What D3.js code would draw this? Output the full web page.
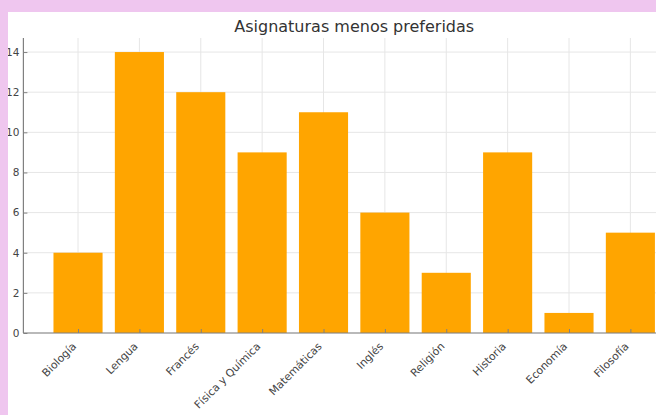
<!DOCTYPE html>
<html><head><meta charset="utf-8">
<script src="https://cdn.jsdelivr.net/npm/d3@7"></script>
<style>body{margin:0;background:#fff}svg{display:block}text{font-family:"DejaVu Sans",sans-serif}</style>
</head><body>
<svg id="c" width="656" height="415"></svg>
<script>
const categories = ["Biología","Lengua","Francés","Física y Química","Matemáticas","Inglés","Religión","Historia","Economía","Filosofía"];
const values = [4,14,12,9,11,6,3,9,1,5];
const yTicks = [0,2,4,6,8,10,12,14];
const title = "Asignaturas menos preferidas";
const xLabel = "Asignaturas";

const svg = d3.select("#c");
const L = 23.4, R = 685, T = 38, B = 333;
const x = d3.scaleLinear().domain([-0.89, categories.length - 1 + 0.89]).range([L, R]);
const y = d3.scaleLinear().domain([0, 14.7]).range([B, T]);
const bw = x(0.8) - x(0);

const g = svg.append("g");
// grid
g.selectAll("line.gx").data(categories).join("line")
  .attr("x1", (d,i)=>x(i)).attr("x2",(d,i)=>x(i)).attr("y1",T).attr("y2",B)
  .attr("stroke","#e6e6e6").attr("stroke-width",1);
g.selectAll("line.gy").data(yTicks).join("line")
  .attr("x1",L).attr("x2",R).attr("y1",d=>y(d)).attr("y2",d=>y(d))
  .attr("stroke","#e6e6e6").attr("stroke-width",1);
// bars
g.selectAll("rect.bar").data(values).join("rect")
  .attr("x",(d,i)=>x(i)-bw/2).attr("width",bw)
  .attr("y",d=>y(d)).attr("height",d=>B-y(d))
  .attr("fill","#ffa500");
// spines
g.append("line").attr("x1",L).attr("x2",L).attr("y1",T).attr("y2",B).attr("stroke","#808080").attr("stroke-width",1.2);
g.append("line").attr("x1",L).attr("x2",R).attr("y1",B).attr("y2",B).attr("stroke","#808080").attr("stroke-width",1.2);
// y ticks
const yAxis = d3.axisLeft(y).tickValues(yTicks).tickSizeInner(-4).tickSizeOuter(0).tickPadding(4);
const ya = g.append("g").attr("transform",`translate(${L},0)`).call(yAxis);
ya.select(".domain").remove();
ya.selectAll(".tick line").attr("stroke","#808080");
ya.selectAll("text").attr("fill","#444").style("font-size","10.5px").style("font-family","DejaVu Sans");
// x ticks
const xAxis = d3.axisBottom(x).tickValues(d3.range(categories.length)).tickSizeInner(-4).tickSizeOuter(0).tickFormat(i=>categories[i]);
const xa = g.append("g").attr("transform",`translate(0,${B})`).call(xAxis);
xa.select(".domain").remove();
xa.selectAll(".tick line").attr("stroke","#808080");
xa.selectAll("text")
  .attr("fill","#444").style("font-size","10.8px").style("font-family","DejaVu Sans")
  .attr("text-anchor","end").attr("y",0).attr("dy",0)
  .attr("transform","translate(-1.5,14) rotate(-45)");
// title
svg.append("text").attr("x",(L+R)/2).attr("y",32).attr("text-anchor","middle")
  .attr("fill","#333").style("font-size","16px").text(title);
svg.append("text").attr("x",(L+R)/2).attr("y",423).attr("text-anchor","middle")
  .attr("fill","#444").style("font-size","11px").text(xLabel);
// frame
svg.append("rect").attr("x",0).attr("y",0).attr("width",656).attr("height",12).attr("fill","#efc6ef");
svg.append("rect").attr("x",0).attr("y",0).attr("width",8).attr("height",415).attr("fill","#efc6ef");
</script>
</body></html>
